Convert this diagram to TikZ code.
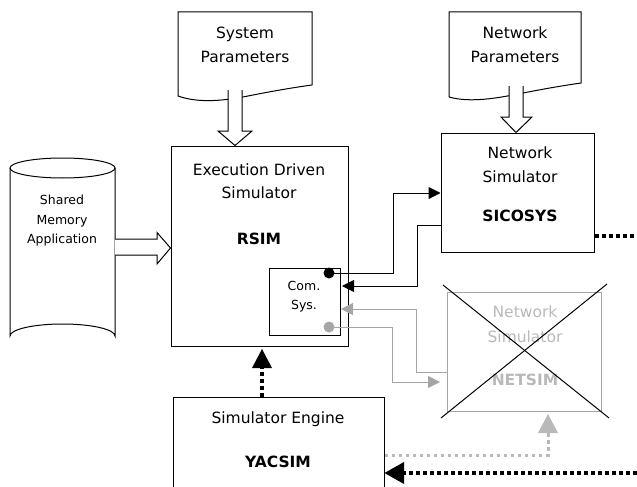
\documentclass[tikz,border=0pt]{standalone}
\usepackage{fontspec}
\setmainfont{DejaVu Sans}
\usetikzlibrary{arrows.meta}
\definecolor{lgray}{RGB}{165,165,165}
\definecolor{tgray}{RGB}{185,185,185}
\tikzset{
  lbl/.style={inner sep=0pt, font=\fontsize{15.5}{18}\selectfont},
  small/.style={inner sep=0pt, font=\fontsize{12.5}{15}\selectfont},
  bold/.style={inner sep=0pt, font=\fontsize{15.5}{18}\selectfont\bfseries},
  link/.style={line width=1pt, -{Triangle[length=12pt,width=12pt]}},
  glink/.style={link, draw=lgray, -{Triangle[length=12pt,width=12pt,fill=lgray]}},
  dotline/.style={line width=4pt, dash pattern=on 4pt off 3pt},
  gdotline/.style={line width=3pt, dash pattern=on 3.5pt off 3.5pt, draw=tgray},
  blockarrow/.style={fill=white, draw, line width=1pt, line join=miter},
  pin/.style={circle, inner sep=0pt, minimum size=11pt},
}
\begin{document}
\begin{tikzpicture}[x=1pt,y=-1pt]
\useasboundingbox (0,0) rectangle (637,487);

% --- main blocks
\node[draw, line width=1pt, minimum width=177pt, minimum height=200pt, inner sep=0pt] (rsim) at (259.5,246) {};
\node[draw, line width=1pt, minimum width=153pt, minimum height=119pt, inner sep=0pt] (sico) at (517.5,192.5) {};
\node[draw=lgray, line width=1pt, minimum width=154pt, minimum height=119pt, inner sep=0pt] (netsim) at (524,351.5) {};
\node[draw, line width=1pt, minimum width=211pt, minimum height=100pt, inner sep=0pt] (yac) at (278.5,447) {};
\node[draw, line width=1pt, minimum width=71pt, minimum height=67pt, inner sep=0pt] (com) at (304.5,301.5) {};

% --- parameter documents
\draw[line width=1pt] (178,96) -- (178,12) -- (312,12) -- (312,85)
  .. controls (290,88) and (268,92) .. (248,96)
  .. controls (228,100) and (200,104) .. (178,96);
\node[lbl] (sysp1) at (245,34) {System};
\node[lbl] (sysp2) at (245,57) {Parameters};

\draw[line width=1pt] (449,97) -- (449,12) -- (581,12) -- (581,83)
  .. controls (560,86) and (538,90) .. (518,94)
  .. controls (498,98) and (470,103) .. (449,97);
\node[lbl] (netp1) at (515,33) {Network};
\node[lbl] (netp2) at (515,57) {Parameters};

% --- shared memory application (cylinder)
\draw[line width=1pt, fill=white] (10,168) -- (10,336) arc[start angle=180, end angle=360, x radius=52.5, y radius=12] -- (115,168);
\draw[line width=1pt] (62.5,168) ellipse[x radius=52.5, y radius=10];
\node[small] (app1) at (62,200) {Shared};
\node[small] (app2) at (62,221) {Memory};
\node[small] (app3) at (62,240) {Application};

% --- block arrows
\fill[white] (228,90) rectangle (242,131);
\draw[blockarrow] (228,90) -- (228,131) -- (218,131) -- (235,145.5) -- (252,131) -- (242,131) -- (242,90);
\fill[white] (509,86) rectangle (523,117);
\draw[blockarrow] (509,86) -- (509,117) -- (501,117) -- (516,132.5) -- (532,117) -- (523,117) -- (523,86);
\draw[blockarrow] (115,239) -- (157,239) -- (157,232.5) -- (rsim.west |- 0,248) -- (157,264) -- (157,255) -- (115,255);

% --- block texts
\node[lbl] (rs1) at (259,170) {Execution Driven};
\node[lbl] (rs2) at (259,193) {Simulator};
\node[bold] (rs3) at (259,239) {RSIM};
\node[small] (cs1) at (304,286) {Com.};
\node[small] (cs2) at (304,306) {Sys.};
\node[lbl] (sc1) at (520,153) {Network};
\node[lbl] (sc2) at (520,177) {Simulator};
\node[bold] (sc3) at (520,216) {SICOSYS};
\node[lbl, text=tgray] (ns1) at (525,312) {Network};
\node[lbl, text=tgray] (ns2) at (525,337) {Simulator};
\node[bold, text=tgray] (ns3) at (525,380) {NETSIM};
\node[lbl] (ye1) at (278,419) {Simulator Engine};
\node[bold] (ye2) at (278,462) {YACSIM};

% --- NETSIM crossed out
\coordinate (xa) at (443,285);
\coordinate (xb) at (609,418);
\coordinate (xc) at (441,418);
\coordinate (xd) at (607,284);
\draw[line width=1pt] (xa) -- (xb);
\draw[line width=1pt] (xc) -- (xd);

% --- communication ports
\node[pin, fill=black] (pa) at (329,273) {};
\node[pin, fill=lgray] (pb) at (329,327) {};

% --- links to SICOSYS
\draw[link] (pa.center) -- (393,273) -- (393,193) -- (sico.west |- 0,193);
\draw[link] (sico.west |- 0,225) -- (417,225) -- (417,286) -- (342,286);

% --- links to NETSIM
\draw[glink] (netsim.west |- 0,372) -- (416,372) -- (416,309) -- (341,309);
\draw[glink] (pb.center) -- (392,327) -- (392,382) -- (440,382);

% --- engine links (dotted)
\coordinate (upTip) at (262,349);
\draw[dotline] (yac.north -| upTip) -- (262,367);
\fill (252,368) -- (upTip) -- (272,368) -- cycle;
\coordinate (eastA) at (637,236);
\draw[dotline] (sico.east |- eastA) -- (eastA);
\coordinate (eastB) at (637,473);
\draw[dotline] (eastB) -- (402,473);
\fill (404,462) -- (yac.east |- eastB) -- (404,484) -- cycle;
\draw[gdotline] (yac.east |- 0,455) -- (548,455) -- (548,433);
\fill[tgray] (538,433) -- (548,414) -- (558,433) -- cycle;
\end{tikzpicture}
\end{document}
